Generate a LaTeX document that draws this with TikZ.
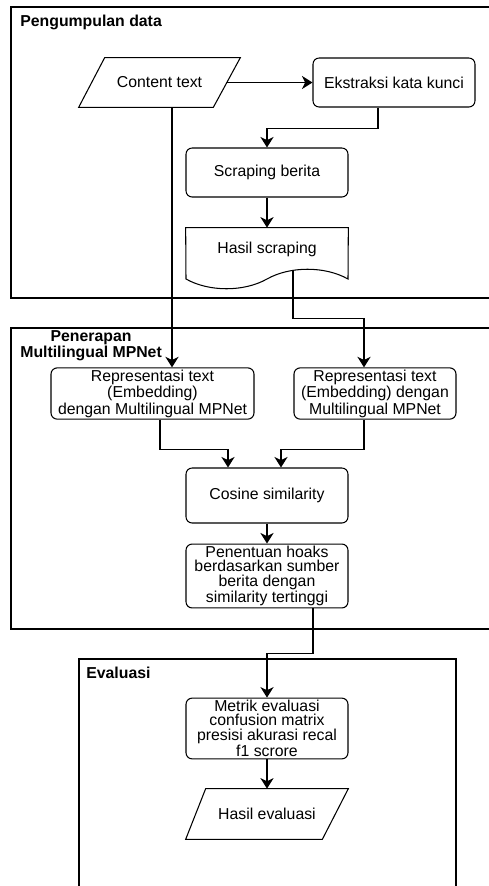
\documentclass[tikz,border=0pt]{standalone}
\usepackage{fontspec}
\setmainfont{Liberation Sans}
\usetikzlibrary{arrows.meta}

\tikzset{
  box/.style={draw, rounded corners=3.5pt, minimum width=3.24cm, minimum height=0.98cm,
    align=center, inner sep=1pt, line width=0.6pt},
  io/.style={minimum width=3.22cm, minimum height=0.98cm, inner sep=1pt},
  shp/.style={line width=0.6pt},
  frame/.style={draw, line width=0.6pt},
  ttl/.style={font=\fontsize{9}{9}\selectfont\bfseries, anchor=west, inner sep=0pt, align=center},
  arr/.style={-{Stealth[length=6pt,width=7.5pt,inset=1.8pt]}, line width=0.7pt}
}

\begin{document}
\begin{tikzpicture}[x=0.02cm, y=-0.02cm, font=\fontsize{9}{8.3}\selectfont]
  \clip (0,0) rectangle (489,886);

  % Frames
  \draw[frame] (11,7) rectangle (520,298);
  \node[ttl] (t1) at (20,22) {Pengumpulan data};
  \draw[frame] (11,328) rectangle (520,629);
  \node[ttl] (t2) at (20,345.5) {Penerapan\\Multilingual MPNet};
  \draw[frame] (79,659) rectangle (456,920);
  \node[ttl] (t3) at (86,673) {Evaluasi};

  % Pengumpulan data
  \node[io] (content) at (159.5,82.5) {Content text};
  \draw[shp] ([xshift=0.52cm]content.north west) -- (content.north east)
    -- ([xshift=-0.54cm]content.south east) -- (content.south west) -- cycle;
  \node[box] (ekstraksi) at (394,82.5) {Ekstraksi kata kunci};
  \node[box] (scraping) at (267,172.5) {Scraping berita};
  \node[minimum width=3.24cm, minimum height=0.86cm, inner sep=0pt] (hasil) at (267,249.5) {Hasil scraping};
  \draw[shp] (hasil.north west) -- (hasil.north east) -- (348,279)
    .. controls (325,266) and (290,266) .. (267,279)
    .. controls (244,292) and (209,292) .. (186,279) -- cycle;

  % Penerapan Multilingual MPNet
  \node[box, minimum width=4.06cm] (rep1) at (152.5,393.5) {Representasi text\\(Embedding)\\dengan Multilingual MPNet};
  \node[box] (rep2) at (375,393.5) {Representasi text\\(Embedding) dengan\\Multilingual MPNet};
  \node[box, minimum height=1.1cm] (cosine) at (267,495.5) {Cosine similarity};
  \node[box, minimum height=1.12cm] (penentuan) at (267,576) {Penentuan hoaks\\berdasarkan sumber\\berita dengan\\similarity tertinggi};

  % Evaluasi
  \node[box, minimum height=1.18cm] (metrik) at (267,728.5) {Metrik evaluasi\\confusion matrix\\presisi akurasi recal\\f1 scrore};
  \node[io, minimum width=3.24cm, minimum height=1cm] (hasilev) at (267,814) {Hasil evaluasi};
  \draw[shp] ([xshift=0.4cm]hasilev.north west) -- (hasilev.north east)
    -- ([xshift=-0.52cm]hasilev.south east) -- (hasilev.south west) -- cycle;

  % Connectors
  \draw[arr] ([xshift=-0.26cm]content.east) -- (ekstraksi.west);
  \draw[arr] ([xshift=-0.32cm]ekstraksi.south) -- ++(0,21) -| (scraping.north);
  \draw[arr] (scraping.south) -- (hasil.north);
  \draw[arr] ([xshift=0.25cm]content.south) -- ([xshift=0.25cm]content.south |- rep1.north);
  \draw[arr] ([xshift=0.52cm]hasil.south) -- ++(0,47) -| ([xshift=-0.22cm]rep2.north);
  \draw[arr] ([xshift=0.15cm]rep1.south) -- ++(0,30) -| ([xshift=-0.78cm]cosine.north);
  \draw[arr] ([xshift=-0.22cm]rep2.south) -- ++(0,30) -| ([xshift=0.28cm]cosine.north);
  \draw[arr] (cosine.south) -- (penentuan.north);
  \draw[arr] ([xshift=0.92cm]penentuan.south) -- ++(0,45) -| (metrik.north);
  \draw[arr] (metrik.south) -- (hasilev.north);
\end{tikzpicture}
\end{document}
